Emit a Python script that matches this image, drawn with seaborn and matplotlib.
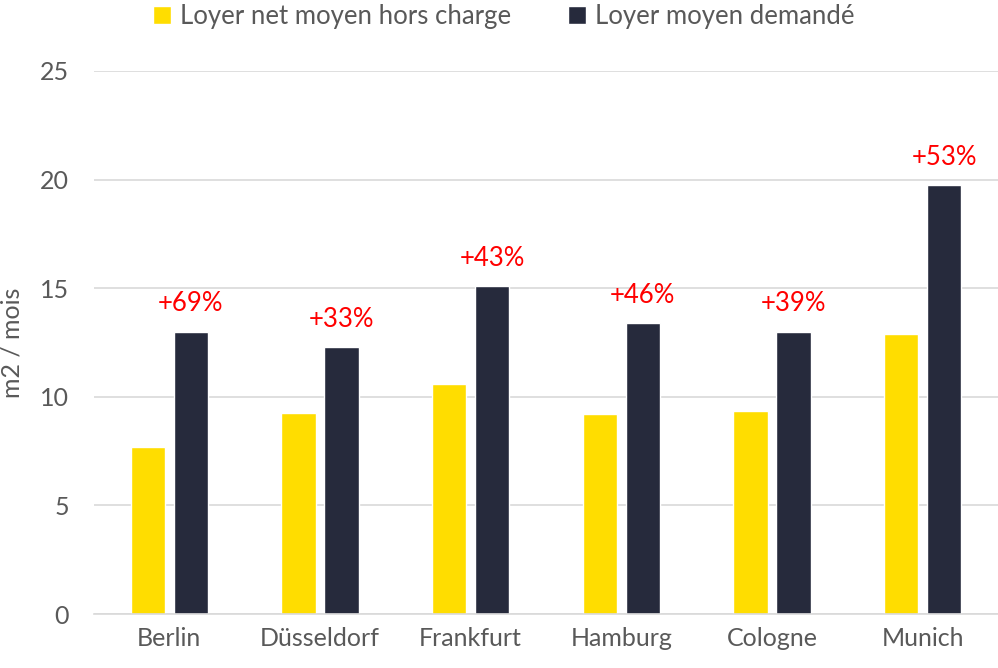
import matplotlib
matplotlib.use("Agg")
import matplotlib.pyplot as plt
import seaborn as sns
import pandas as pd

cities = ["Berlin", "Düsseldorf", "Frankfurt", "Hamburg", "Cologne", "Munich"]
loyer_net = [7.7, 9.25, 10.6, 9.2, 9.35, 12.9]
loyer_demande = [13.0, 12.3, 15.1, 13.4, 13.0, 19.75]
pct_labels = ["+69%", "+33%", "+43%", "+46%", "+39%", "+53%"]
series_names = ["Loyer net moyen hors charge", "Loyer moyen demandé"]
colors = ["#FFDD00", "#262A3C"]

df = pd.DataFrame({
    "ville": cities * 2,
    "valeur": loyer_net + loyer_demande,
    "serie": [series_names[0]] * len(cities) + [series_names[1]] * len(cities),
})

sns.set_theme(style="white")
plt.rcParams["font.family"] = ["Lato", "DejaVu Sans"]

fig = plt.figure(figsize=(9.98, 6.68), dpi=100)
ax = fig.add_axes([94 / 998, 1 - 614 / 668, 1 - 94 / 998, (614 - 71) / 668])

sns.barplot(data=df, x="ville", y="valeur", hue="serie", palette=colors,
            width=0.57, gap=0.2, ax=ax, saturation=1, legend=True)

ax.set_ylim(0, 25)
ax.set_xlim(-0.5, len(cities) - 0.5)
ax.set_yticks([0, 5, 10, 15, 20, 25])
ax.yaxis.grid(True, color="#D9D9D9", linewidth=1.2)
ax.set_axisbelow(True)
for s in ["top", "right", "left"]:
    ax.spines[s].set_visible(False)
ax.spines["bottom"].set_color("#D9D9D9")
ax.spines["bottom"].set_linewidth(1.2)
ax.tick_params(axis="both", length=0, labelsize=18, colors="#595959")
ax.tick_params(axis="x", pad=9)
ax.tick_params(axis="y", pad=18)
ax.set_xlabel("")
ax.set_ylabel("m2 / mois", fontsize=18, color="#595959", labelpad=12)

# annotations above dark bars
dark_bars = ax.containers[1]
for bar, lab in zip(dark_bars, pct_labels):
    ax.annotate(lab, (bar.get_x() + bar.get_width() / 2, bar.get_height()),
                xytext=(0, 11), textcoords="offset points", ha="center", va="bottom",
                color="#FF0000", fontsize=18.5)

handles, labels = ax.get_legend_handles_labels()
ax.legend(handles, labels, loc="upper center", bbox_to_anchor=(0.453, 1 + 71 / 543 + 0.035),
          ncol=2, frameon=False, fontsize=18.5, handlelength=0.7, handleheight=0.7,
          columnspacing=2.2, handletextpad=0.35, labelcolor="#595959")

fig.savefig("out.png", dpi=100)
